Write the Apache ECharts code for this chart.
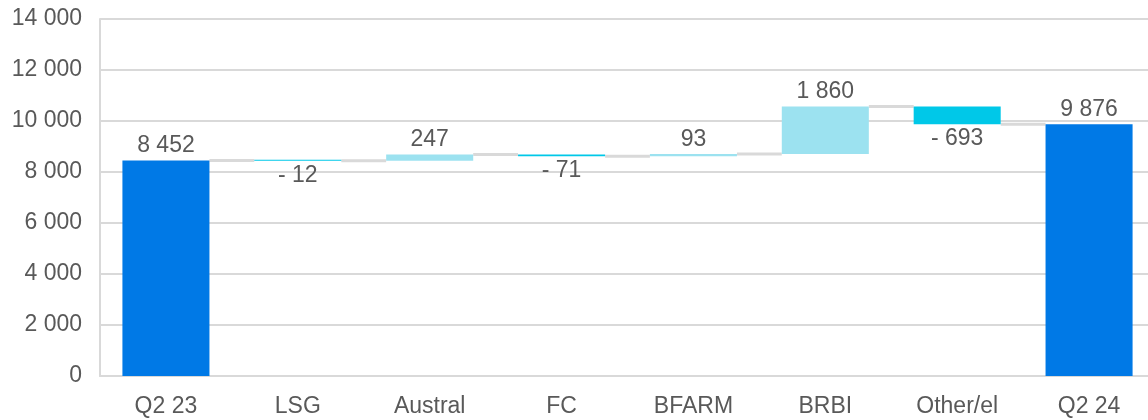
<!DOCTYPE html>
<html>
<head>
<meta charset="utf-8">
<style>
  html, body { margin: 0; padding: 0; background: #ffffff; overflow: hidden; }
  #chart { width: 1155px; height: 420px; }
</style>
<script src="https://cdn.jsdelivr.net/npm/echarts@6/dist/echarts.min.js"></script>
</head>
<body>
<div id="chart"></div>
<script>
// Bridge categories, from the opening total through the contributions to the closing total
const categories = ['Q2 23', 'LSG', 'Austral', 'FC', 'BFARM', 'BRBI', 'Other/el', 'Q2 24'];
const values = [8452, -12, 247, -71, 93, 1860, -693, 9876];
const kinds = ['total', 'delta', 'delta', 'delta', 'delta', 'delta', 'delta', 'total'];
const yTicks = { min: 0, max: 14000, interval: 2000 };

const COLOR_TOTAL = '#0079e6';
const COLOR_UP = '#9ce2f0';
const COLOR_DOWN = '#00c8e8';
const GRID_GRAY = '#d9d9d9';
const TEXT_GRAY = '#595959';
const FONT = '"Liberation Sans", Arial, sans-serif';
const FONT_SIZE = 23;

function fmt(v) {
  const s = String(Math.abs(v)).replace(/\B(?=(\d{3})+(?!\d))/g, ' ');
  return v < 0 ? '- ' + s : s;
}

// Invisible base + visible segment for each column
const baseData = [];
const barData = [];
const levels = [];
let running = 0;
values.forEach((v, i) => {
  if (kinds[i] === 'total') {
    running = v;
    baseData.push(0);
    barData.push({
      value: v, raw: v,
      itemStyle: { color: COLOR_TOTAL },
      label: { position: 'top' }
    });
  } else {
    const start = running;
    running = start + v;
    baseData.push(Math.min(start, running));
    barData.push({
      value: Math.abs(v), raw: v,
      itemStyle: { color: v < 0 ? COLOR_DOWN : COLOR_UP },
      label: { position: v < 0 ? 'bottom' : 'top' }
    });
  }
  levels.push(running);
});

// Connector levels between neighbouring columns
const connectorData = levels.slice(0, -1).map((lvl, i) => [i, lvl]);
const BAR_FRAC = 0.66;

const chart = echarts.init(document.getElementById('chart'));
chart.setOption({
  animation: false,
  textStyle: { fontFamily: FONT },
  grid: { left: 100, right: 0, top: 19, bottom: 44, containLabel: false },
  xAxis: {
    type: 'category',
    data: categories,
    axisLine: { show: true, lineStyle: { color: GRID_GRAY, width: 2 } },
    axisTick: { show: false },
    axisLabel: { color: TEXT_GRAY, fontSize: FONT_SIZE, margin: 19, fontFamily: FONT }
  },
  yAxis: {
    type: 'value',
    min: yTicks.min,
    max: yTicks.max,
    interval: yTicks.interval,
    axisLine: { show: true, lineStyle: { color: GRID_GRAY, width: 2 } },
    axisTick: { show: false },
    splitLine: { show: true, lineStyle: { color: GRID_GRAY, width: 2 } },
    axisLabel: {
      color: TEXT_GRAY, fontSize: FONT_SIZE, margin: 18, fontFamily: FONT,
      formatter: v => fmt(v)
    }
  },
  series: [
    {
      type: 'custom',
      z: 1,
      data: connectorData,
      renderItem: (params, api) => {
        const i = api.value(0);
        const lvl = api.value(1);
        const p0 = api.coord([i, lvl]);
        const p1 = api.coord([i + 1, lvl]);
        const hw = api.size([1, 0])[0] * BAR_FRAC / 2;
        return {
          type: 'line',
          shape: { x1: p0[0] + hw, y1: p0[1], x2: p1[0] - hw, y2: p1[1] },
          style: { stroke: GRID_GRAY, lineWidth: 3 }
        };
      }
    },
    {
      type: 'bar',
      stack: 'wf',
      barWidth: '66%',
      itemStyle: { color: 'transparent' },
      emphasis: { disabled: true },
      data: baseData,
      z: 2
    },
    {
      type: 'bar',
      stack: 'wf',
      barWidth: '66%',
      barMinHeight: 1,
      z: 3,
      data: barData,
      label: {
        show: true,
        color: TEXT_GRAY,
        fontSize: FONT_SIZE,
        fontFamily: FONT,
        distance: 3,
        formatter: p => fmt(p.data.raw)
      }
    }
  ]
});
</script>
</body>
</html>
